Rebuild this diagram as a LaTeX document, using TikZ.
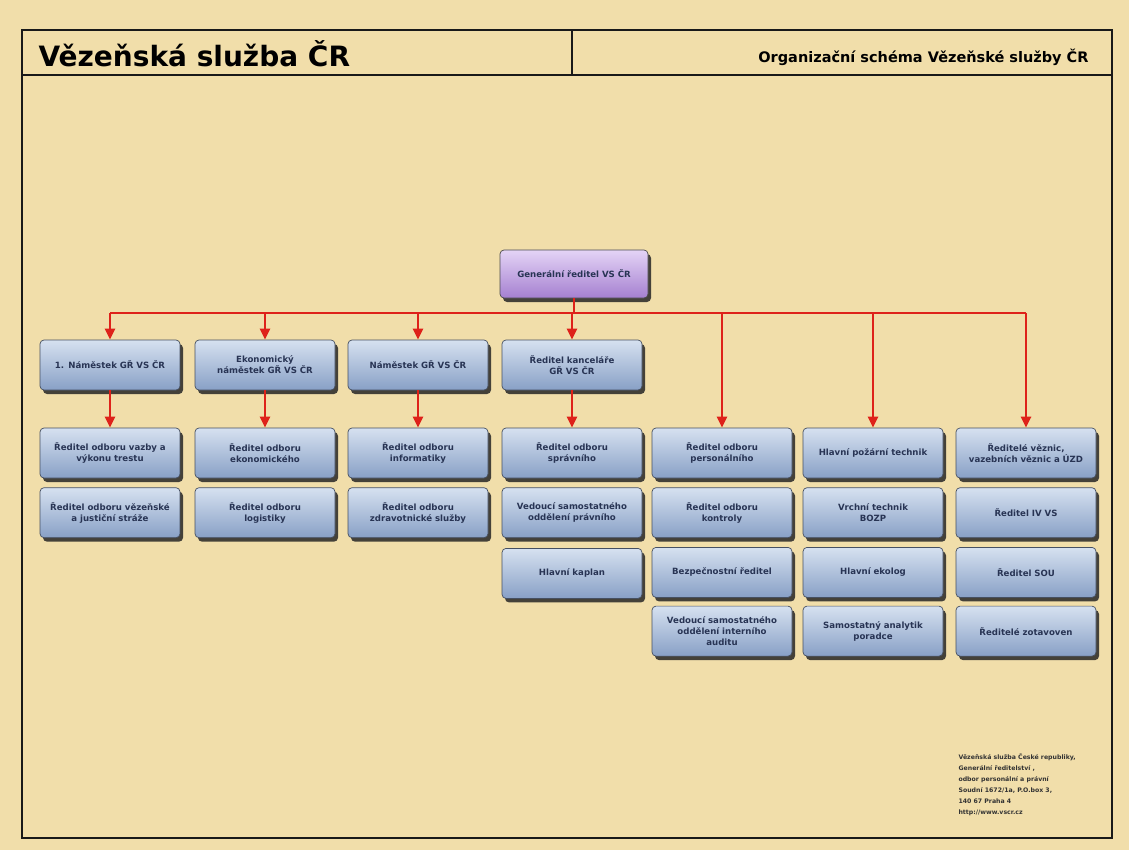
\documentclass[tikz,border=0pt]{standalone}
\usepackage{fontspec}
\setmainfont{DejaVu Sans}
\usetikzlibrary{arrows.meta,shadows,positioning}
\definecolor{paper}{RGB}{241,222,170}
\definecolor{boxtop}{RGB}{214,225,240}
\definecolor{boxbot}{RGB}{136,160,198}
\definecolor{boxline}{RGB}{70,80,98}
\definecolor{boxtext}{RGB}{40,52,84}
\definecolor{lilatop}{RGB}{228,212,246}
\definecolor{lilabot}{RGB}{165,128,208}
\definecolor{leitung}{RGB}{222,34,26}
\tikzset{
  post/.style={rectangle, rounded corners=4pt, draw=boxline, line width=0.7pt,
    top color=boxtop, bottom color=boxbot, text=boxtext,
    minimum width=140pt, minimum height=50pt, text width=132pt, align=center,
    font=\fontsize{8.6}{10.8}\selectfont\bfseries,
    drop shadow={shadow xshift=3pt, shadow yshift=-4pt, fill=black!85, opacity=.85}},
  chef/.style={post, top color=lilatop, bottom color=lilabot, draw=black!70,
    minimum width=148pt, minimum height=48pt},
  linie/.style={leitung, line width=2.6pt},
  pfeil/.style={linie, -{Triangle[width=10pt,length=11pt]}}
}
\begin{document}
\begin{tikzpicture}[x=1pt,y=-1pt]
\fill[paper] (0,0) rectangle (1129,850);
\useasboundingbox (0,0) rectangle (1129,850);
% rahmen und kopf
\draw[line width=2.6pt, black!90] (22,30) rectangle (1112,838);
\draw[line width=2.6pt, black!90] (22,75) -- (1112,75);
\draw[line width=2.6pt, black!90] (572,30) -- (572,75);
\node[anchor=west, font=\fontsize{28}{30}\selectfont\bfseries] (titel) at (35,54) {Vězeňská služba ČR};
\node[anchor=east, font=\fontsize{14.5}{17}\selectfont\bfseries] (schema) at (1092,57) {Organizační schéma Vězeňské služby ČR};
% generalni reditel
\node[chef] (gr) at (574,274) {Generální ředitel VS ČR};
% namestci
\node[post] (n1) at (110,365) {1. Náměstek GŘ VS ČR};
\node[post] (n2) at (265,365) {Ekonomický\\náměstek GŘ VS ČR};
\node[post] (n3) at (418,365) {Náměstek GŘ VS ČR};
\node[post] (n4) at (572,365) {Ředitel kanceláře\\GŘ VS ČR};
% odbory
\node[post] (a1) at (110,453) {Ředitel odboru vazby a\\výkonu trestu};
\node[post, below=9pt of a1] (b1) {Ředitel odboru vězeňské\\a justiční stráže};
\node[post] (a2) at (265,453) {Ředitel odboru\\ekonomického};
\node[post, below=9pt of a2] (b2) {Ředitel odboru\\logistiky};
\node[post] (a3) at (418,453) {Ředitel odboru\\informatiky};
\node[post, below=9pt of a3] (b3) {Ředitel odboru\\zdravotnické služby};
\node[post] (a4) at (572,453) {Ředitel odboru\\správního};
\node[post, below=9pt of a4] (b4) {Vedoucí samostatného\\oddělení právního};
\node[post, below=10pt of b4] (c4) {Hlavní kaplan};
\node[post] (a5) at (722,453) {Ředitel odboru\\personálního};
\node[post, below=9pt of a5] (b5) {Ředitel odboru\\kontroly};
\node[post, below=9pt of b5] (c5) {Bezpečnostní ředitel};
\node[post, below=8pt of c5] (d5) {Vedoucí samostatného\\oddělení interního\\auditu};
\node[post] (a6) at (873,453) {Hlavní požární technik};
\node[post, below=9pt of a6] (b6) {Vrchní technik\\BOZP};
\node[post, below=9pt of b6] (c6) {Hlavní ekolog};
\node[post, below=8pt of c6] (d6) {Samostatný analytik\\poradce};
\node[post] (a7) at (1026,453) {Ředitelé věznic,\\vazebních věznic a ÚZD};
\node[post, below=9pt of a7] (b7) {Ředitel IV VS};
\node[post, below=9pt of b7] (c7) {Ředitel SOU};
\node[post, below=8pt of c7] (d7) {Ředitelé zotavoven};
% vedeni
\coordinate (bus) at (0,313);
\draw[linie] (gr.south) -- (gr.south |- bus);
\draw[linie] (n1.north |- bus) -- (a7.north |- bus);
\foreach \n in {n1,n2,n3,n4} \draw[pfeil] (\n.north |- bus) -- (\n.north);
\foreach \n in {a5,a6,a7} \draw[pfeil] (\n.north |- bus) -- (\n.north);
\draw[pfeil] (n1.south) -- (a1.north);
\draw[pfeil] (n2.south) -- (a2.north);
\draw[pfeil] (n3.south) -- (a3.north);
\draw[pfeil] (n4.south) -- (a4.north);
% adresa
\node[anchor=north west, align=left, font=\fontsize{6.2}{11}\selectfont\bfseries, text=black!80] (adresa) at (955,750)
  {Vězeňská služba České republiky,\\Generální ředitelství ,\\odbor personální a právní\\Soudní 1672/1a, P.O.box 3,\\140 67 Praha 4\\http://www.vscr.cz};
\end{tikzpicture}
\end{document}
